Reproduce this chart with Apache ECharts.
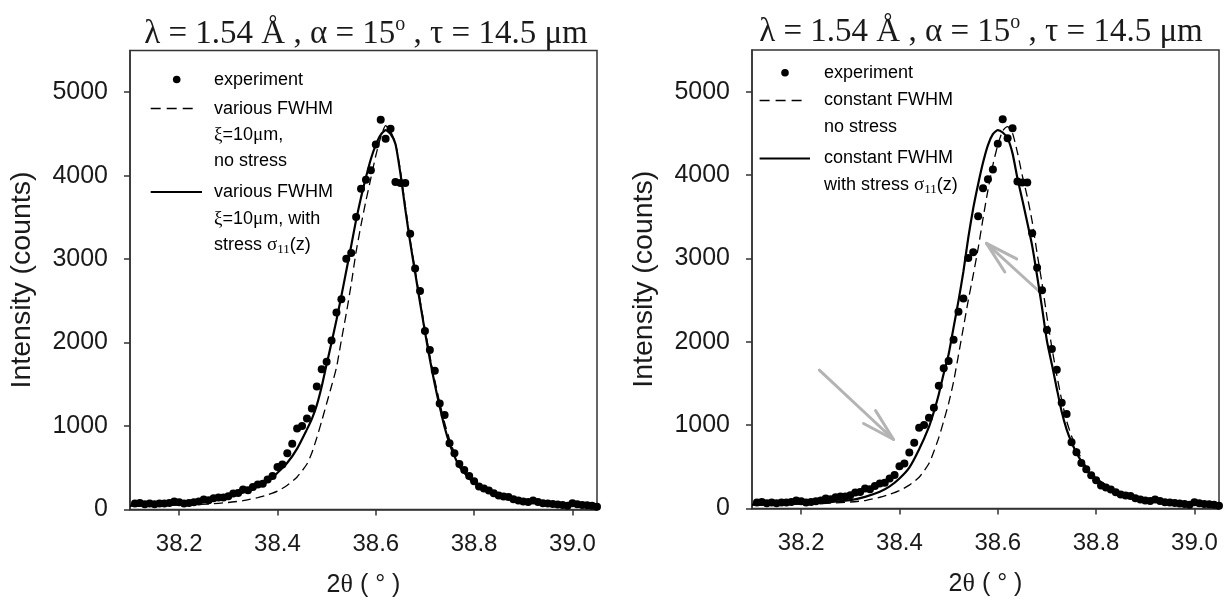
<!DOCTYPE html>
<html><head><meta charset="utf-8">
<script src="https://cdn.jsdelivr.net/npm/echarts@6/dist/echarts.min.js"></script>
<style>html,body{margin:0;padding:0;background:#fff}#c{width:1226px;height:604px}</style>
</head><body><div id="c"></div>
<script>
// ---- data ----
const expX = [38.11,38.12,38.13,38.14,38.15,38.16,38.17,38.18,38.19,38.20,
  38.21,38.22,38.23,38.24,38.25,38.26,38.27,38.28,38.29,38.30,
  38.31,38.32,38.33,38.34,38.35,38.36,38.37,38.38,38.39,38.40,
  38.41,38.42,38.43,38.44,38.45,38.46,38.47,38.48,38.49,38.50,
  38.51,38.52,38.53,38.54,38.55,38.56,38.57,38.58,38.59,38.60,
  38.61,38.62,38.63,38.64,38.65,38.66,38.67,38.68,38.69,38.70,
  38.71,38.72,38.73,38.74,38.75,38.76,38.77,38.78,38.79,38.80,
  38.81,38.82,38.83,38.84,38.85,38.86,38.87,38.88,38.89,38.90,
  38.91,38.92,38.93,38.94,38.95,38.96,38.97,38.98,38.99,39.00,
  39.01,39.02,39.03,39.04,39.05];
const expY = [72,79,64,72,64,72,72,79,96,88,
  72,79,88,96,120,112,135,144,144,160,
  192,199,240,231,271,300,310,360,402,508,
  540,673,788,970,1001,1089,1209,1473,1681,1769,
  2024,2360,2518,3004,3073,3505,3843,3950,4066,4375,
  4670,4442,4562,3923,3911,3911,3303,2887,2618,2140,
  1912,1664,1269,1133,794,674,546,472,400,338,
  276,251,228,195,167,155,151,123,107,95,
  90,107,91,75,72,65,61,53,45,75,
  62,53,51,45,32];
const curveX = [38.10,38.14,38.18,38.22,38.26,38.30,38.33,38.36,38.38,38.40,38.42,38.44,
  38.46,38.47,38.48,38.49,38.50,38.51,38.52,38.53,38.54,38.55,38.56,38.57,38.58,38.59,
  38.60,38.61,38.62,38.63,38.64,38.65,38.66,38.67,38.68,38.69,38.70,38.71,38.72,38.73,
  38.74,38.75,38.76,38.77,38.78,38.79,38.80,
  38.82,38.84,38.86,38.90,38.95,39.00,39.05];
const leftNoStress = [40,44,50,56,66,84,106,142,175,220,290,390,
  545,680,860,1060,1270,1480,1700,2030,2350,2700,3090,3410,3700,3970,
  4240,4460,4600,4530,4390,4060,3640,3230,2870,2510,2170,1840,1550,1280,
  1040,840,680,550,455,385,325,
  250,190,150,100,68,52,42];
const leftStress = [48,52,60,72,100,150,205,285,335,440,560,730,
  960,1085,1250,1473,1740,2000,2270,2560,2860,3160,3470,3740,3980,4200,
  4370,4490,4545,4500,4380,4030,3600,3200,2840,2480,2130,1800,1500,1233,
  985,790,640,514,440,374,315,
  255,192,150,100,70,52,42];
const rightNoStress = [40,44,50,56,64,78,95,135,170,215,280,375,
  540,685,850,1050,1261,1520,1840,2170,2500,2800,3120,3480,3820,4120,
  4360,4530,4580,4500,4270,3990,3740,3440,3060,2700,2300,1930,1600,1300,
  1050,870,720,600,500,420,360,
  280,212,162,105,72,54,43];
const rightStress = [48,52,58,68,80,100,140,200,265,360,490,710,
  980,1160,1370,1620,1850,2170,2490,2840,3250,3600,3890,4150,4360,4490,
  4540,4510,4440,4260,3960,3700,3430,3150,2790,2410,2010,1730,1440,1160,
  950,795,670,565,475,405,360,
  275,210,160,105,72,54,43];
const xTicks = [38.2, 38.4, 38.6, 38.8, 39.0];
const yTicks = [0, 1000, 2000, 3000, 4000, 5000];
// gray annotation arrows (right panel): [tailX, tailY, headX, headY] in data units
const arrowsRight = [[38.237, 1660, 38.388, 828], [38.685, 2600, 38.577, 3181]];

// ---- helpers ----
const zip = (xs, ys) => xs.map((x, i) => [x, ys[i]]);
const SANS = 'Liberation Sans, Arial, sans-serif';
const SERIF = 'Liberation Serif, Times New Roman, serif';
const INK = '#1a1a1a';
const AX = '#333';

const chart = echarts.init(document.getElementById('c'), null, {renderer: 'canvas'});

function xAxis(gi) {
  return {
    type: 'value', gridIndex: gi, min: 38.1, max: 39.05,
    axisLine: {show: true, onZero: false, lineStyle: {color: AX, width: 1.5}},
    axisTick: {show: true, length: 6, customValues: xTicks, lineStyle: {color: AX, width: 1.5}},
    axisLabel: {customValues: xTicks, formatter: v => v.toFixed(1), fontSize: 24, fontFamily: SANS, color: INK, margin: 23},
    splitLine: {show: false},
    name: '{a|2}{g|θ}{a| ( ° )}', nameLocation: 'middle', nameGap: 63,
    nameTextStyle: {rich: {a: {fontSize: 25, fontFamily: SANS, color: INK}, g: {fontSize: 26, fontFamily: SERIF, color: INK}}}
  };
}
function yAxis(gi) {
  return {
    type: 'value', gridIndex: gi, min: 0, max: 5500, interval: 1000,
    axisLine: {show: true, onZero: false, lineStyle: {color: AX, width: 1.5}},
    axisTick: {show: true, length: 6, customValues: yTicks, lineStyle: {color: AX, width: 1.5}},
    axisLabel: {customValues: yTicks, formatter: v => String(v), fontSize: 25, fontFamily: SANS, color: INK, margin: 22},
    splitLine: {show: false},
    name: 'Intensity (counts)', nameLocation: 'middle', nameGap: 93, nameRotate: 90,
    nameTextStyle: {fontSize: 28.5, fontFamily: SANS, color: INK}
  };
}
const titleRich = {
  m: {fontFamily: SERIF, fontSize: 33, lineHeight: 38, color: INK, fontWeight: 'normal'},
  s: {fontFamily: SERIF, fontSize: 20, lineHeight: 20, verticalAlign: 'top', color: INK, fontWeight: 'normal'}
};
const titleText = '{m|λ = 1.54 Å , α = 15}{s|o}{m| , τ = 14.5 μm}';

function dash(gi, data) {
  return {type: 'line', xAxisIndex: gi, yAxisIndex: gi, data, showSymbol: false, symbol: 'none',
    smooth: 0.2, lineStyle: {color: '#000', width: 1.3, type: [9, 5]}, z: 3, silent: true};
}
function solid(gi, data) {
  return {type: 'line', xAxisIndex: gi, yAxisIndex: gi, data, showSymbol: false, symbol: 'none',
    smooth: 0.2, lineStyle: {color: '#000', width: 2.2}, z: 3, silent: true};
}
function dots(gi) {
  return {type: 'scatter', xAxisIndex: gi, yAxisIndex: gi, data: zip(expX, expY),
    symbol: 'circle', symbolSize: 8, itemStyle: {color: '#000', opacity: 1}, z: 4, silent: true};
}

// legend drawing (graphic)
const lrich = {
  n: {fontFamily: SANS, fontSize: 18, lineHeight: 22, color: INK},
  g: {fontFamily: SERIF, fontSize: 19, lineHeight: 22, color: INK},
  sub: {fontFamily: SERIF, fontSize: 13, lineHeight: 12, verticalAlign: 'bottom', color: INK}
};
function ltext(x, y, t) {
  return {type: 'text', x, y, silent: true, style: {text: t, rich: lrich, align: 'left', verticalAlign: 'middle'}};
}
function lline(x1, x2, y, dashed) {
  return {type: 'line', silent: true, shape: {x1, y1: y, x2, y2: y},
    style: dashed ? {stroke: '#000', lineWidth: 1.3, lineDash: [10, 6]} : {stroke: '#000', lineWidth: 2.2}};
}
function ldot(cx, cy) {
  return {type: 'circle', silent: true, shape: {cx, cy, r: 3.8}, style: {fill: '#000'}};
}
const legendLeft = [
  ['{n|experiment}'],
  ['{n|various FWHM}', '{g|ξ}{n|=10}{g|μ}{n|m,}', '{n|no stress}'],
  ['{n|various FWHM}', '{g|ξ}{n|=10}{g|μ}{n|m, with}', '{n|stress }{g|σ}{sub|11}{n|(z)}']
];
const legendRight = [
  ['{n|experiment}'],
  ['{n|constant FWHM}', '{n|no stress}'],
  ['{n|constant FWHM}', '{n|with stress }{g|σ}{sub|11}{n|(z)}']
];
const graphics = [
  ldot(176.7, 79.5), ltext(214, 80, legendLeft[0][0]),
  lline(150.7, 197, 108.5, true), ltext(214, 109, legendLeft[1][0]), ltext(214, 135.5, legendLeft[1][1]), ltext(214, 161.5, legendLeft[1][2]),
  lline(150.7, 202, 192, false), ltext(214, 192.5, legendLeft[2][0]), ltext(214, 219, legendLeft[2][1]), ltext(214, 245.5, legendLeft[2][2]),
  ldot(785, 72.7), ltext(824, 73, legendRight[0][0]),
  lline(759.6, 807, 100.5, true), ltext(824, 100.5, legendRight[1][0]), ltext(824, 127.5, legendRight[1][1]),
  lline(759.6, 810, 158.5, false), ltext(824, 158.5, legendRight[2][0]), ltext(824, 185.5, legendRight[2][1])
];

const option = {
  animation: false,
  backgroundColor: '#fff',
  title: [
    {text: titleText, left: 361, top: 10, textAlign: 'center', textStyle: {fontWeight: 'normal', rich: titleRich}},
    {text: titleText, left: 976, top: 8, textAlign: 'center', textStyle: {fontWeight: 'normal', rich: titleRich}}
  ],
  grid: [
    {left: 130, top: 50.5, width: 467, height: 459, show: true, borderColor: AX, borderWidth: 1.5, backgroundColor: 'transparent'},
    {left: 752, top: 50, width: 467, height: 458.5, show: true, borderColor: AX, borderWidth: 1.5, backgroundColor: 'transparent'}
  ],
  xAxis: [xAxis(0), xAxis(1)],
  yAxis: [yAxis(0), yAxis(1)],
  series: [
    dash(0, zip(curveX, leftNoStress)),
    solid(0, zip(curveX, leftStress)),
    dots(0),
    {
      type: 'custom', xAxisIndex: 1, yAxisIndex: 1, data: arrowsRight, silent: true, z: 2,
      encode: {x: [0, 2], y: [1, 3]}, clip: false,
      renderItem(params, api) {
        const p1 = api.coord([api.value(0), api.value(1)]);
        const p2 = api.coord([api.value(2), api.value(3)]);
        const ang = Math.atan2(p1[1] - p2[1], p1[0] - p2[0]);
        const L = 34, da = 15 * Math.PI / 180;
        const b1 = [p2[0] + L * Math.cos(ang + da), p2[1] + L * Math.sin(ang + da)];
        const b2 = [p2[0] + L * Math.cos(ang - da), p2[1] + L * Math.sin(ang - da)];
        const st = {stroke: '#b4b4b4', lineWidth: 3, lineCap: 'round', lineJoin: 'round', fill: null};
        return {type: 'group', children: [
          {type: 'line', shape: {x1: p1[0], y1: p1[1], x2: p2[0], y2: p2[1]}, style: st},
          {type: 'polyline', shape: {points: [b1, p2, b2]}, style: st}
        ]};
      }
    },
    dash(1, zip(curveX, rightNoStress)),
    solid(1, zip(curveX, rightStress)),
    dots(1)
  ],
  graphic: graphics
};
chart.setOption(option);
</script>
</body></html>
